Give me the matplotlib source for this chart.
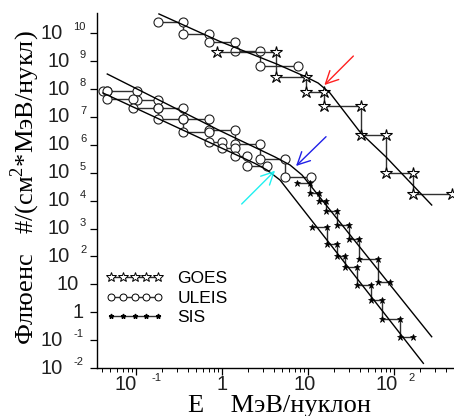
import numpy as np
import matplotlib.pyplot as plt
from matplotlib import transforms
from matplotlib.lines import Line2D

plt.rcParams['mathtext.fontset'] = 'custom'
plt.rcParams['mathtext.rm'] = 'Liberation Serif'

# ---- upper event: GOES and ULEIS (bin edges, fluence per bin)
goes1_E = [0.88, 4.2, 9.5, 15.5, 41.0, 80.0, 165.0, 480.0]
goes1_F = [2.07e9, 2.75e8, 7.9e7, 2.5e7, 2.2e6, 9.5e4, 1.74e4]
uleis1_E = [0.18, 0.35, 0.70, 1.41, 2.76, 7.65]
uleis1_F = [2.45e10, 9.3e9, 4.7e9, 2.35e9, 6.8e8]

# ---- lower events: ULEIS and SIS, two events
uleis2_E = [0.046, 0.103, 0.181, 0.353, 0.71, 1.41, 2.76, 5.4, 10.8]
uleis2_F = [8.7e7, 4.0e7, 2.08e7, 8.4e6, 3.4e6, 1.03e6, 3.0e5, 6.8e4]
uleis3_E = [0.0414, 0.046, 0.091, 0.181, 0.353, 0.71, 0.99, 1.41, 1.965, 3.31]
uleis3_F = [8.7e7, 4.4e7, 2.03e7, 8.2e6, 2.95e6, 1.29e6, 7.5e5, 3.97e5, 1.74e5]

sis2_E = [7.4, 10.5, 13.5, 16.3, 21.9, 30.3, 39.6, 65.8, 90.2]
sis2_F = [4.39e4, 1.92e4, 9.3e3, 4.35e3, 1.33e3, 421, 80.7, 11.8]
sis3_E = [11.0, 16.5, 21.9, 27.0, 36.9, 53.7, 72.1, 117.8, 168.0]
sis3_F = [1162, 278, 106, 40.6, 9.44, 2.74, 0.57, 0.132]

# ---- fitted spectra
fit1_E = [0.184, 0.945, 4.32, 9.23, 13.1, 18.0, 41.1, 80.9, 275.0]
fit1_F = [4.9e10, 5.04e9, 7.87e8, 2.81e8, 1.64e8, 7.2e7, 2.65e6, 3.66e5, 6.95e3]
fit2_E = [0.0461, 0.945, 4.13, 6.17, 8.51, 275.0]
fit2_F = [3.45e8, 3.2e6, 3.66e5, 1.89e5, 8.28e4, 0.132]
fit3_E = [0.0411, 0.945, 2.42, 3.33, 4.72, 220.0]
fit3_F = [7.2e7, 8.13e5, 2.14e5, 1.25e5, 5.47e4, 0.0147]

# ---- arrows: (tail E, tail F, tip E, tip F, colour)
arrows = [(33.7, 1.52e9, 15.5, 1.39e8, '#ff2020'),
          (16.2, 1.95e6, 7.25, 1.74e5, '#2020e8'),
          (1.69, 7.55e3, 4.13, 1.18e5, '#20f0f0')]

y_exps = list(range(-2, 11))
x_exps = [-1, 0, 1, 2]


def steps(edges, flux):
    x = np.repeat(edges, 2)[1:-1]
    y = np.repeat(flux, 2)
    return x, y


W, H = 454, 416
fig = plt.figure(figsize=(W / 100, H / 100), dpi=100)
ax = fig.add_axes([97 / W, 48 / H, 357 / W, 355 / H])
ax.set_xscale('log')
ax.set_yscale('log')
ax.set_xlim(0.035, 500)
ax.set_ylim(1e-2, 5.3e10)

lc = '#303030'
star = dict(marker='*', ms=9, mfc='white', mec='black', mew=0.8)
circ = dict(marker='o', ms=6.5, mfc='white', mec='#202020', mew=0.8)
sis = dict(marker='*', ms=5, mfc='black', mec='black', mew=0.5)

for E, F, st in [(uleis1_E, uleis1_F, circ), (goes1_E, goes1_F, star),
                 (uleis2_E, uleis2_F, circ), (uleis3_E, uleis3_F, circ),
                 (sis2_E, sis2_F, sis), (sis3_E, sis3_F, sis)]:
    x, y = steps(E, F)
    ax.plot(x, y, color=lc, lw=1.0, **st)

for E, F in [(fit1_E, fit1_F), (fit2_E, fit2_F), (fit3_E, fit3_F)]:
    ax.plot(E, F, color='black', lw=1.0)

for e0, f0, e1, f1, c in arrows:
    ax.annotate('', xy=(e1, f1), xytext=(e0, f0),
                arrowprops=dict(arrowstyle='->,head_length=0.9,head_width=0.45',
                                color=c, lw=1.0, shrinkA=0, shrinkB=0))

# axes look
for s in ['top', 'right']:
    ax.spines[s].set_visible(False)
for s in ['left', 'bottom']:
    ax.spines[s].set_linewidth(1.0)
ax.tick_params(which='major', direction='out', length=5, width=0.9,
               labelleft=False, labelbottom=False)
ax.tick_params(which='minor', direction='out', length=3, width=0.7)
ax.set_xticks([10.0 ** e for e in x_exps])
ax.set_yticks([10.0 ** e for e in y_exps])

tfont = dict(family='Liberation Sans', color='#202020')
big = 14.5


def off(dx, dy):
    return transforms.ScaledTranslation(dx / 100, dy / 100, fig.dpi_scale_trans)


ty = transforms.blended_transform_factory(fig.transFigure, ax.transData)
for e in y_exps:
    v = 10.0 ** e
    if e == 0:
        ax.text(84 / W, v, '1', transform=ty, ha='right', va='center', size=big, **tfont)
    elif e == 1:
        ax.text(79 / W, v, '10', transform=ty, ha='right', va='center', size=big, **tfont)
    else:
        s = str(e)
        r = 63 if len(s) > 1 else 70
        ax.text(r / W, v, '10', transform=ty, ha='right', va='center', size=big, **tfont)
        ax.text((r + 10) / W, v, s, transform=ty + off(0, 6), ha='left', va='center',
                size=8, **tfont)

tx = transforms.blended_transform_factory(ax.transData, fig.transFigure)
ylab = 1 - 385 / H
for e in x_exps:
    v = 10.0 ** e
    if e == 0:
        ax.text(v, ylab, '1', transform=tx, ha='center', va='center', size=big, **tfont)
    elif e == 1:
        ax.text(v, ylab, '10', transform=tx + off(-3, 0), ha='center', va='center',
                size=big, **tfont)
    else:
        s = str(e)
        r, l = (1, 15) if len(s) > 1 else (4, 14)
        ax.text(v, ylab, '10', transform=tx + off(r, 0), ha='right', va='center',
                size=big, **tfont)
        ax.text(v, ylab, s, transform=tx + off(l, 7), ha='left', va='center',
                size=8, **tfont)

fig.text(280 / W, 1 - 412 / H, 'E    МэВ/нуклон', ha='center', va='baseline',
         family='Liberation Serif', size=19)
fig.text(25 / W, 1 - 188 / H, 'Флюенс   #/(см$^2$*МэВ/нукл)', ha='center', va='center',
         rotation=90, family='Liberation Serif', size=19)

handles = [Line2D([], [], color=lc, lw=1.0, marker='*', ms=7.5, mfc='white', mec='black', mew=0.7),
           Line2D([], [], color=lc, lw=1.0, marker='o', ms=5, mfc='white', mec='black', mew=0.7),
           Line2D([], [], color=lc, lw=1.0, marker='*', ms=3.5, mfc='black', mec='black')]
ax.legend(handles, ['GOES', 'ULEIS', 'SIS'], numpoints=5, frameon=False,
          loc='upper left', bbox_to_anchor=(106 / W, 1 - 271 / H),
          bbox_transform=fig.transFigure, borderpad=0, borderaxespad=0,
          handlelength=3.3, handletextpad=0.8, labelspacing=0.25,
          prop=dict(family='Liberation Sans', size=12.5))

fig.savefig('out.png', dpi=100)
